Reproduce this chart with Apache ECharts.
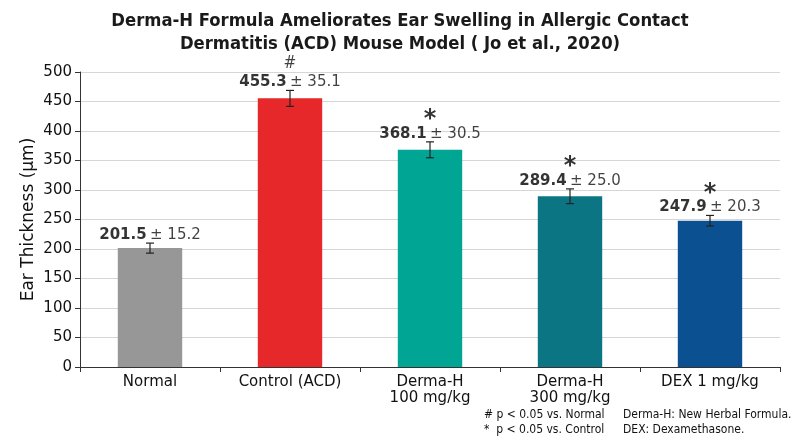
<!DOCTYPE html>
<html>
<head>
<meta charset="utf-8">
<script src="https://cdn.jsdelivr.net/npm/echarts@6/dist/echarts.min.js"></script>
<style>
  html, body { margin: 0; padding: 0; background: #fff; }
  #chart { width: 800px; height: 436px; }
</style>
</head>
<body>
<div id="chart"></div>
<script>
// data
var categories = ['Normal', 'Control (ACD)', 'Derma-H\n100 mg/kg', 'Derma-H\n300 mg/kg', 'DEX 1 mg/kg'];
var means = [201.5, 455.3, 368.1, 289.4, 247.9];
var sds = [15.2, 35.1, 30.5, 25.0, 20.3];
// half length of the whiskers as drawn
var errDrawn = [8.5, 13.5, 13.5, 12.5, 9];
var marks = ['', '#', '*', '*', '*'];
var barColors = ['#979797', '#e7282a', '#00a593', '#0c7583', '#0b5192'];

var font = 'DejaVu Sans';
var chart = echarts.init(document.getElementById('chart'));

var barData = means.map(function (v, i) {
  return { value: v, itemStyle: { color: barColors[i] } };
});
var errData = means.map(function (v, i) {
  return [i, v - errDrawn[i], v + errDrawn[i]];
});
var labelData = means.map(function (v, i) {
  return [i, v + errDrawn[i]];
});

var option = {
  animation: false,
  title: {
    text: 'Derma-H Formula Ameliorates Ear Swelling in Allergic Contact\nDermatitis (ACD) Mouse Model ( Jo et al., 2020)',
    left: 'center',
    top: 5,
    textStyle: {
      fontFamily: 'DejaVu Sans Condensed',
      fontSize: 18.3,
      fontWeight: 'bold',
      color: '#1a1a1a',
      lineHeight: 23
    }
  },
  grid: { left: 80, right: 20, top: 72, bottom: 69 },
  xAxis: {
    type: 'category',
    data: categories,
    axisLine: { lineStyle: { color: '#333', width: 1 } },
    axisTick: { show: true, length: 5, lineStyle: { color: '#333' } },
    axisLabel: { fontFamily: font, fontSize: 15, color: '#111', margin: 7, lineHeight: 16, interval: 0 }
  },
  yAxis: {
    type: 'value',
    min: 0,
    max: 500,
    interval: 50,
    name: 'Ear Thickness (μm)',
    nameLocation: 'middle',
    nameGap: 43,
    nameMoveOverlap: false,
    nameTextStyle: { fontFamily: font, fontSize: 17, color: '#111' },
    axisLine: { show: true, lineStyle: { color: '#333' } },
    axisTick: { show: true, length: 5, lineStyle: { color: '#333' } },
    axisLabel: { fontFamily: font, fontSize: 15, color: '#111', margin: 8 },
    splitLine: { lineStyle: { color: '#d6d6d6', width: 1 } }
  },
  series: [
    {
      type: 'bar',
      data: barData,
      barWidth: '46%'
    },
    {
      type: 'custom',
      data: errData,
      z: 5,
      renderItem: function (params, api) {
        var x = api.coord([api.value(0), 0])[0];
        var lo = api.coord([api.value(0), api.value(1)])[1];
        var hi = api.coord([api.value(0), api.value(2)])[1];
        var w = 4;
        var st = { stroke: '#222', lineWidth: 1.2 };
        return {
          type: 'group',
          children: [
            { type: 'line', shape: { x1: x, y1: lo, x2: x, y2: hi }, style: st },
            { type: 'line', shape: { x1: x - w, y1: hi, x2: x + w, y2: hi }, style: st },
            { type: 'line', shape: { x1: x - w, y1: lo, x2: x + w, y2: lo }, style: st }
          ]
        };
      }
    },
    {
      type: 'scatter',
      data: labelData,
      symbolSize: 0,
      z: 6,
      label: {
        show: true,
        position: 'top',
        distance: -1,
        formatter: function (p) {
          var i = p.dataIndex;
          var txt = '{b|' + means[i].toFixed(1) + '} {r|± ' + sds[i].toFixed(1) + '}';
          if (marks[i] === '#') txt = '{h|#}\n' + txt;
          else if (marks[i] === '*') txt = '{s|*}\n' + txt;
          return txt;
        },
        rich: {
          b: { fontFamily: font, fontSize: 15, fontWeight: 'bold', color: '#000', lineHeight: 18 },
          r: { fontFamily: font, fontSize: 15, color: '#111', lineHeight: 18 },
          h: { fontFamily: 'DejaVu Sans Condensed', fontSize: 17, color: '#111', lineHeight: 20 },
          s: { fontFamily: font, fontSize: 24, fontWeight: 'bold', color: '#000', lineHeight: 18, padding: [8, 0, 0, 0] }
        }
      }
    }
  ],
  graphic: [
    {
      type: 'text', left: 484, top: 407,
      style: { text: '# p < 0.05 vs. Normal\n*  p < 0.05 vs. Control', fontFamily: 'DejaVu Sans Condensed', fontSize: 12, fill: '#111', lineHeight: 15 }
    },
    {
      type: 'text', left: 623, top: 407,
      style: { text: 'Derma-H: New Herbal Formula.\nDEX: Dexamethasone.', fontFamily: 'DejaVu Sans Condensed', fontSize: 12, fill: '#111', lineHeight: 15 }
    }
  ]
};

chart.setOption(option);
</script>
</body>
</html>
